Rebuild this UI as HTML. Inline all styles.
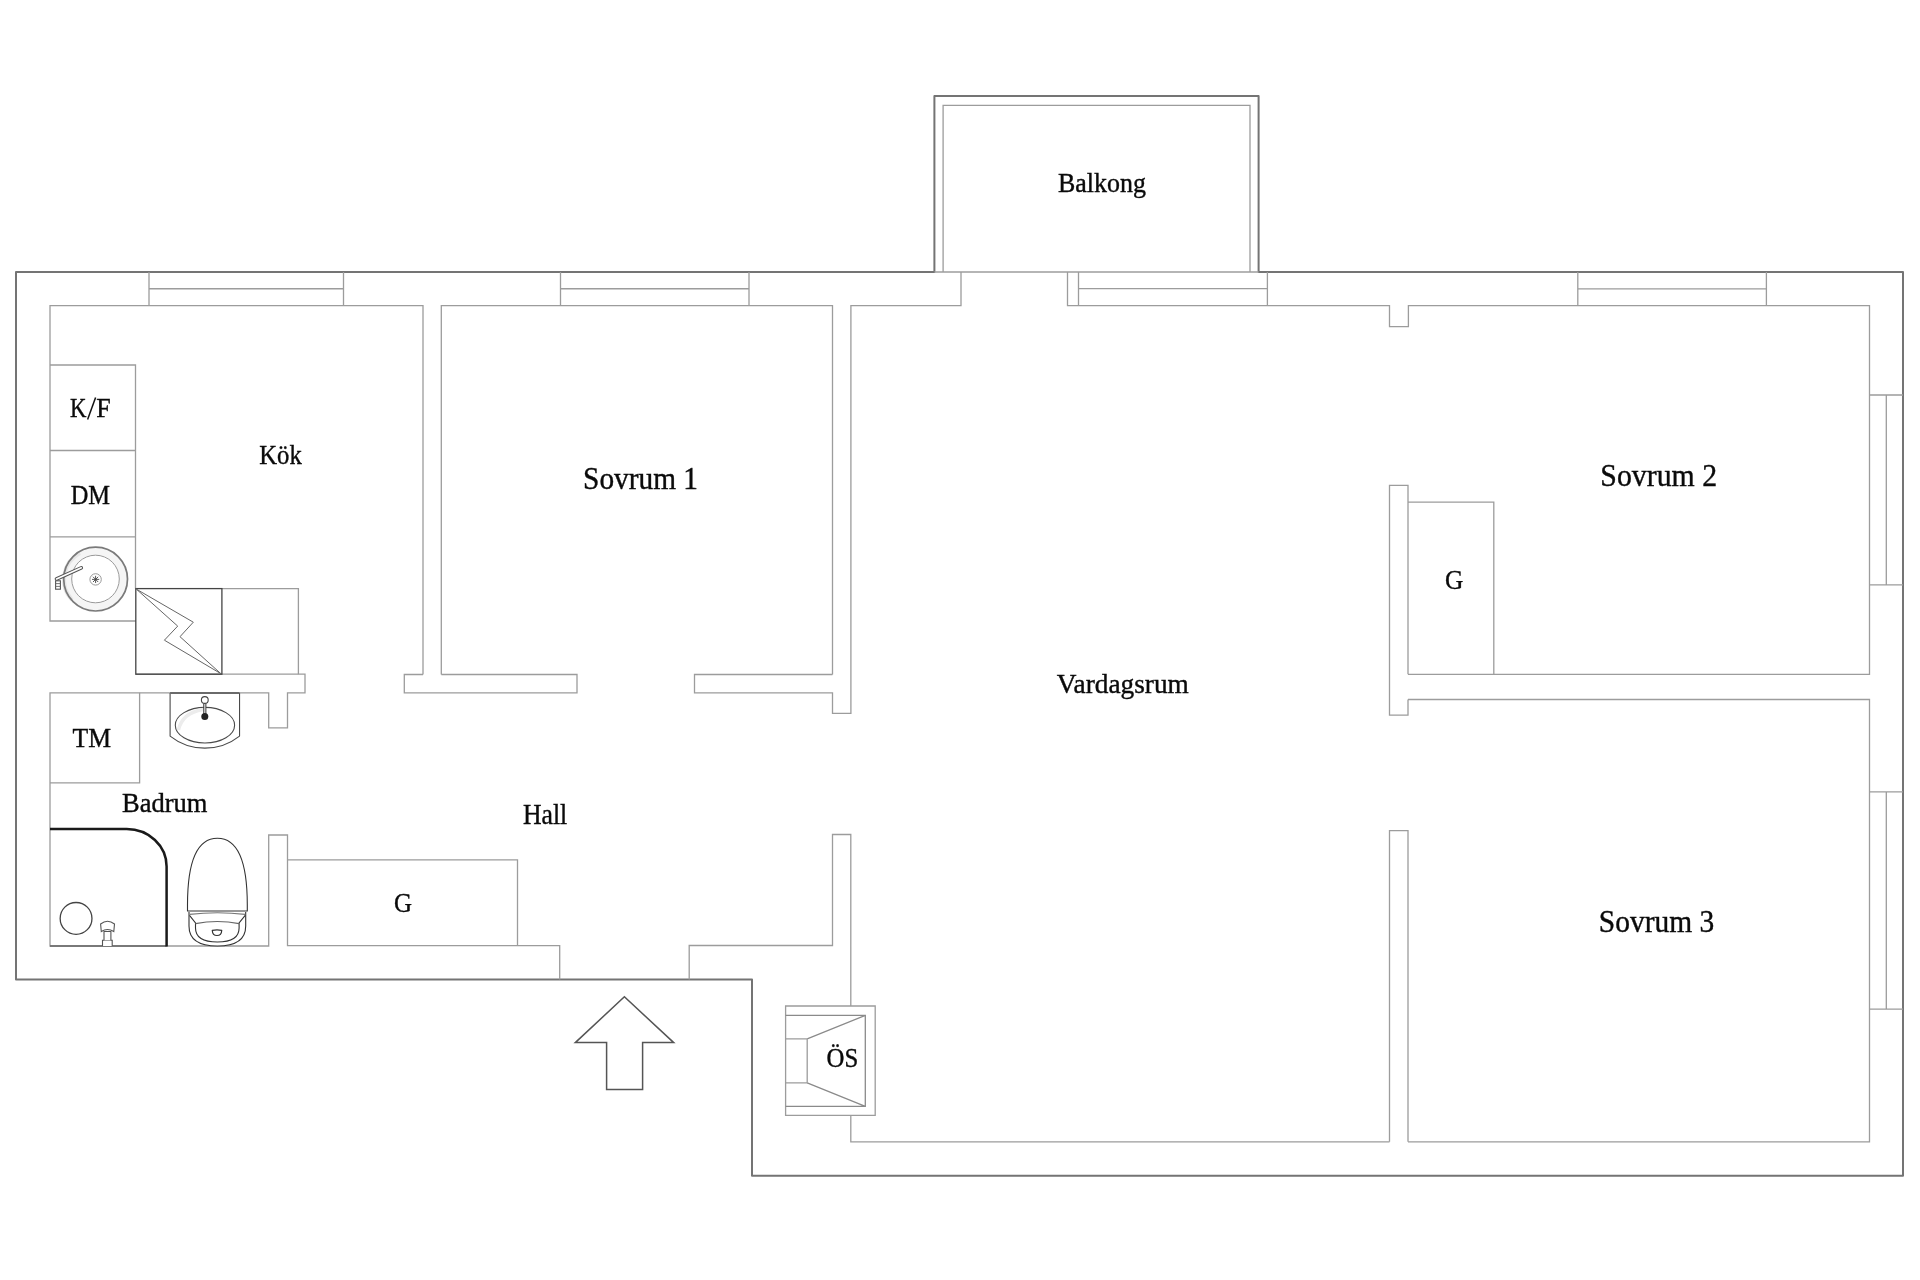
<!DOCTYPE html>
<html><head><meta charset="utf-8">
<style>
html,body{margin:0;padding:0;background:#fff;width:1920px;height:1280px;overflow:hidden}
svg{display:block}
text{font-family:"Liberation Serif",serif;fill:#0a0a0a}
.lbl{will-change:transform}
</style></head><body>
<svg width="1920" height="1280" viewBox="0 0 1920 1280">
<rect width="1920" height="1280" fill="#fff"/>
<!-- outer walls -->
<g fill="none" stroke="#747474" stroke-width="2" stroke-linejoin="round">
<path d="M16,272 H934.4 V96 H1258.6 V272 H1903 V1175.7 H752 V979.6 H16 Z"/>
</g>
<!-- inner lines -->
<g id="inner" fill="none" stroke="#9c9c9c" stroke-width="1.3" stroke-linejoin="miter">
<!-- balcony inner + threshold -->
<path d="M943.1,272 V105.4 H1250 V272"/>
<path d="M934.4,272 H1258.6" stroke="#9c9c9c"/>
<!-- kitchen -->
<path d="M423,674.5 V305.7 H50 V621 H135.8"/>
<!-- window 1 -->
<path d="M149,272 V305.7 M343.5,272 V305.7 M149,288.75 H343.5"/>
<!-- sovrum 1 -->
<path d="M441.3,674.5 V305.7 H832.5 V674.5"/>
<path d="M560.5,272 V305.7 M749,272 V305.7 M560.5,288.75 H749"/>
<!-- T wall -->
<path d="M423,674.5 H404.3 V692.8 H577 V674.5 H441.3"/>
<path d="M832.5,674.5 H694.5 V692.8 H832.5 V713.3 H850.9 V305.7 H961 V272"/>
<!-- top wall vardagsrum to sov2 -->
<path d="M1067.5,272 V305.7 H1389.5 V326.7 H1408.4 V305.7 H1869.5 V674.3 H1408"/>
<path d="M1078.5,272 V305.7 M1267.4,272 V305.7 M1078.5,288.6 H1267.4"/>
<path d="M1577.8,272 V305.7 M1766.4,272 V305.7 M1577.8,288.8 H1766.4"/>
<!-- right windows -->
<path d="M1869.5,395 H1903 M1869.5,584.8 H1903 M1886.3,395 V584.8"/>
<path d="M1869.5,791.9 H1903 M1869.5,1009.1 H1903 M1886.3,791.9 V1009.1"/>
<!-- sov3 -->
<path d="M1408,699.5 H1869.5 V1141.8 H1408"/>
<!-- stub walls -->
<path d="M1408,674.3 V485.4 H1389.5 V715.2 H1408 V699.5"/>
<path d="M1408,502.1 H1493.8 V674.3"/>
<path d="M1389.5,1141.8 V830.6 H1408 V1141.8"/>
<!-- vardagsrum bottom/left -->
<path d="M850.8,1006 V834.5 H832.5 V945.5 H689.2 V979.6"/>
<path d="M850.8,1115.3 V1141.9 H1389.5"/>
<!-- hall bottom left -->
<path d="M559.7,979.6 V945.6 H287.5 V835 H268.7 V946 H50 V692.8 H268.7 V727.8 H287.5 V692.8 H305 V674.2 H135.8"/>
<path d="M287.5,859.9 H517.5 V945.6"/>
<!-- TM box -->
<path d="M50,782.8 H139.6 V692.8"/>
<!-- counter -->
<path d="M50,365 H135.5 V588.6 M50,450.5 H135.5 M50,536.8 H135.5"/>
<!-- box right of stove -->
<path d="M221.9,588.6 H298.4 V674.2"/>
<!-- ÖS -->
<path d="M785.6,1006 H875.2 V1115.3 H785.6 Z"/>
<path d="M785.6,1015.4 H865.3 V1106.3 H785.6 M807.2,1038.8 L865.3,1015.4 M807.2,1082.9 L865.3,1106.3" stroke="#8a8a8a"/>
<path d="M785.6,1038.8 H807.2 V1082.9 H785.6"/>
</g>
<!-- stove -->
<g fill="none" stroke="#444" stroke-width="1.3">
<rect x="135.8" y="588.6" width="86.1" height="85.6"/>
</g>
<path d="M136.3,589.1 L193.3,622.2 L180,636.7 L220.9,673.7 L164.4,640.2 L177.7,626.1 Z" fill="none" stroke="#666" stroke-width="1"/>
<!-- kitchen sink -->
<g>
<circle cx="95.6" cy="579.1" r="28" fill="none" stroke="#f5f5f5" stroke-width="7.5"/>
<path d="M72,600 A30,30 0 0 1 80,553" fill="none" stroke="#e6e6e6" stroke-width="4"/>
<circle cx="95.6" cy="579.1" r="31.9" fill="none" stroke="#7a7a7a" stroke-width="1.7"/>
<circle cx="95.5" cy="579" r="23.8" fill="none" stroke="#999" stroke-width="1"/>
<circle cx="95.6" cy="579.4" r="5.7" fill="#fff" stroke="#999" stroke-width="1"/>
<path d="M93,576.8 L98.2,582 M98.2,576.8 L93,582 M95.6,575.8 V583 M92,579.4 H99.2" stroke="#444" stroke-width="0.9"/>
<path d="M56.5,579 L81.3,567.8" stroke="#555" stroke-width="3.6" stroke-linecap="round"/>
<path d="M56.5,579 L81.3,567.8" stroke="#fff" stroke-width="1.6" stroke-linecap="round"/>
<rect x="55.6" y="580.8" width="4.8" height="8.4" fill="#fff" stroke="#555" stroke-width="1.1"/>
<path d="M55.6,583.6 H60.4 M55.6,586.4 H60.4" stroke="#666" stroke-width="0.9"/>
</g>
<!-- shower -->
<path d="M50,946 H166.6" stroke="#666" stroke-width="1.6" fill="none"/>
<path d="M50,829 H126.7 A39.9,37.5 0 0 1 166.6,866.5 V946.5" stroke="#1a1a1a" stroke-width="2.5" fill="none"/>
<circle cx="76.06" cy="918.4" r="15.9" fill="none" stroke="#444" stroke-width="1.3"/>
<g fill="#fff" stroke="#555" stroke-width="1.1">
<path d="M102.5,946 V940.3 H112.2 V946"/>
<path d="M104,940.3 V931.5 H110.9 V940.3"/>
<path d="M101.3,931.5 L100.6,924 Q107.5,918.6 114.5,924 L113.8,931.5 Q107.5,927.5 101.3,931.5 Z"/>
</g>
<!-- toilet -->
<g fill="#fff" stroke="#333" stroke-width="1.1">
<path d="M189,912 V926 C189,941 201,946 217.4,946 C234,946 245.7,941 245.7,926 V912"/>
<path d="M189.5,915.4 L195.5,922.9 V928 C195.5,937 203,942 217.4,942 C232,942 239.1,937 239.1,928 V922.9 L245.2,915.4" fill="none"/>
<path d="M195.5,923.6 Q217.4,919.5 239.1,923.6" fill="none" stroke="#666"/>
<path d="M189.5,914.4 Q217.4,911 245.2,914.4" fill="none" stroke="#777"/>
<path d="M187.5,911 V905 C187.5,860 197.4,838.3 217.4,838.3 C237.4,838.3 247.3,860 247.3,905 V911 Z"/>
<path d="M212.3,930.4 Q217,929.5 221.7,930.4 Q221.5,935.5 217,935.5 Q212.5,935.5 212.3,930.4 Z" stroke-width="1.2"/>
</g>
<!-- bath sink -->
<g>
<path d="M170.1,692.9 V736.1 A56,56 0 0 0 239.55,736.1 V692.9" fill="#fff" stroke="#4a4a4a" stroke-width="1.1"/>
<path d="M170.1,693 H239.55" stroke="#6a6a6a" stroke-width="2"/>
<ellipse cx="204.95" cy="725.2" rx="29.65" ry="17.8" fill="#fff" stroke="#4a4a4a" stroke-width="1.1"/>
<path d="M178.5,730 Q182,713 203,709.5" stroke="#ececec" stroke-width="3.5" fill="none"/>
<path d="M204.8,703.5 V714" stroke="#444" stroke-width="3.2"/>
<path d="M204.8,703.5 V714" stroke="#ddd" stroke-width="1.2"/>
<circle cx="204.8" cy="700" r="3.4" fill="#fff" stroke="#444" stroke-width="1.1"/>
<circle cx="204.8" cy="716.4" r="3.5" fill="#222"/>
</g>
<!-- arrow -->
<path d="M624.4,996.8 L673.7,1042.6 H642.6 V1089.4 H606.6 V1042.6 H575.3 Z" fill="none" stroke="#555" stroke-width="1.5"/>
<!-- labels -->
<g class="lbl" stroke="#0a0a0a" stroke-width="0.4">
<text transform="translate(1057.97,191.64) scale(0.9302,1)" font-size="27.89">Balkong</text>
<text transform="translate(583.09,488.89) scale(0.9410,1)" font-size="31.19">Sovrum 1</text>
<text transform="translate(1600.36,486.39) scale(0.9554,1)" font-size="31.19">Sovrum 2</text>
<text transform="translate(1598.78,931.79) scale(0.9476,1)" font-size="31.12">Sovrum 3</text>
<text transform="translate(1056.83,693.47) scale(0.9682,1)" font-size="28.22">Vardagsrum</text>
<text transform="translate(522.98,823.61) scale(0.9001,1)" font-size="28.57">Hall</text>
<text transform="translate(122.01,812.32) scale(0.9365,1)" font-size="28.29">Badrum</text>
<text transform="translate(72.57,746.70) scale(0.9373,1)" font-size="27.38">TM</text>
<text transform="translate(393.90,912.32) scale(0.8978,1)" font-size="27.76">G</text>
<text transform="translate(1445.08,588.83) scale(0.9243,1)" font-size="27.46">G</text>
<text transform="translate(70.05,416.90) scale(0.8081,1)" font-size="28.15">K</text>
<text transform="translate(96.32,416.90) scale(0.9328,1)" font-size="27.79">F</text>
<path d="M95.6,397.4 L87.6,419.5" stroke="#111" stroke-width="1.5" fill="none"/>
<text transform="translate(70.72,503.80) scale(0.8837,1)" font-size="27.63">DM</text>
<text transform="translate(259.26,463.92) scale(0.8812,1)" font-size="28.00">Kök</text>
<text transform="translate(826.61,1066.63) scale(0.9190,1)" font-size="26.99">ÖS</text>
</g>
</svg>
</body></html>
